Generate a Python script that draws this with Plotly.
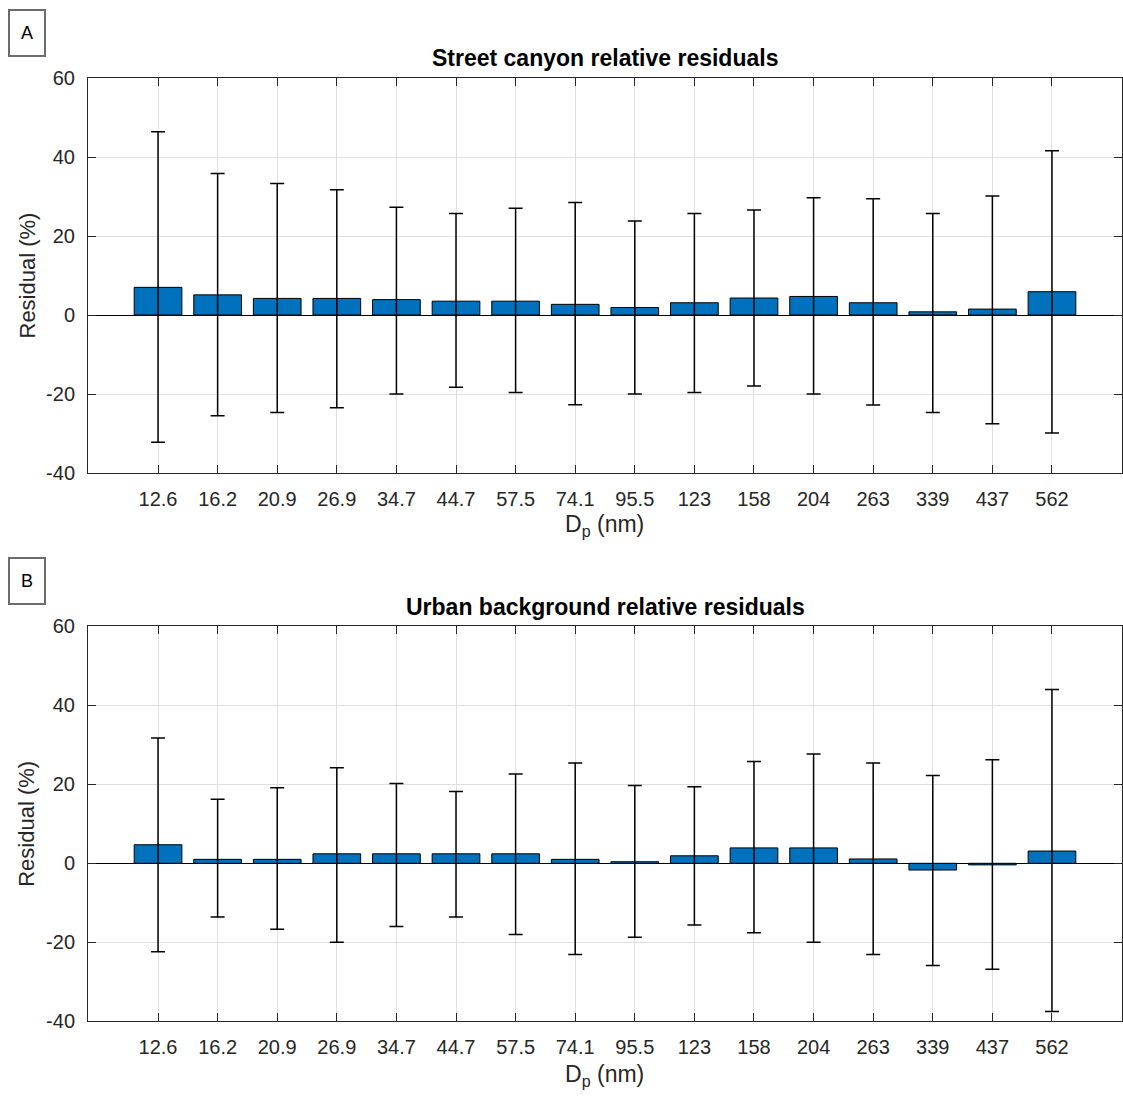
import plotly.graph_objects as go
from plotly.subplots import make_subplots

categories = ["12.6", "16.2", "20.9", "26.9", "34.7", "44.7", "57.5", "74.1",
              "95.5", "123", "158", "204", "263", "339", "437", "562"]

street_mean = [7.0, 5.1, 4.2, 4.2, 3.9, 3.5, 3.5, 2.7, 1.9, 3.1, 4.3, 4.7, 3.1, 0.8, 1.5, 5.9]
street_upper = [46.4, 35.8, 33.3, 31.7, 27.3, 25.7, 27.0, 28.5, 23.8, 25.7, 26.6, 29.7, 29.4, 25.7, 30.1, 41.6]
street_lower = [-32.2, -25.5, -24.7, -23.5, -20.0, -18.3, -19.6, -22.7, -20.0, -19.6, -18.0, -20.0, -22.8, -24.7, -27.5, -29.9]

urban_mean = [4.7, 1.0, 1.0, 2.4, 2.4, 2.4, 2.4, 1.0, 0.4, 1.9, 3.9, 3.9, 1.1, -1.7, -0.4, 3.1]
urban_upper = [31.7, 16.2, 19.1, 24.2, 20.2, 18.2, 22.6, 25.4, 19.7, 19.4, 25.8, 27.7, 25.4, 22.2, 26.2, 44.0]
urban_lower = [-22.4, -13.6, -16.7, -20.0, -16.0, -13.6, -18.0, -23.1, -18.7, -15.6, -17.6, -20.0, -23.1, -25.9, -26.8, -37.5]

y_ticks = [-40, -20, 0, 20, 40, 60]
y_tick_labels = ["-40", "-20", "0", "20", "40", "60"]

W, H = 1123, 1097
FONT = "Liberation Sans, Arial, Helvetica, sans-serif"
AX = "#262626"

x_pos = list(range(1, len(categories) + 1))

fig = make_subplots(rows=2, cols=1)

panels = [
    (street_mean, street_upper, street_lower, 1),
    (urban_mean, urban_upper, urban_lower, 2),
]
for mean, up, lo, row in panels:
    fig.add_trace(go.Bar(
        x=x_pos, y=mean, width=0.8,
        marker=dict(color="#0072BD", line=dict(color="#000000", width=1)),
        error_y=dict(type="data", symmetric=False,
                     array=[u - m for u, m in zip(up, mean)],
                     arrayminus=[m - l for m, l in zip(mean, lo)],
                     color="#000000", thickness=1.5, width=7),
        showlegend=False, hoverinfo="skip",
    ), row=row, col=1)


def px(x):
    return x / W


def py(y):
    return 1 - y / H


x_dom = [px(88), px(1122)]
y_doms = [[py(473), py(78)], [py(1021.3), py(626.3)]]

for i, row in enumerate([1, 2]):
    fig.update_xaxes(
        domain=x_dom, range=[1 - 1.175, len(categories) + 1.175],
        tickmode="array", tickvals=x_pos, ticktext=categories,
        ticks="inside", ticklen=8, tickcolor=AX, tickwidth=1,
        showline=True, linecolor=AX, linewidth=1, mirror="allticks",
        showgrid=True, gridcolor="#dfdfdf", gridwidth=1,
        zeroline=False, ticklabelstandoff=8, automargin=False,
        tickfont=dict(family=FONT, size=20, color=AX),
        row=row, col=1)
    fig.update_yaxes(
        domain=y_doms[i], range=[-40, 60],
        tickmode="array", tickvals=y_ticks, ticktext=y_tick_labels,
        ticks="inside", ticklen=8, tickcolor=AX, tickwidth=1,
        showline=True, linecolor=AX, linewidth=1, mirror="allticks",
        showgrid=True, gridcolor="#dfdfdf", gridwidth=1,
        zeroline=True, zerolinecolor="#000000", zerolinewidth=1,
        ticklabelstandoff=8, automargin=False,
        tickfont=dict(family=FONT, size=20, color=AX),
        row=row, col=1)

annotations = []
titles = [("Street canyon relative residuals", 58), ("Urban background relative residuals", 607)]
for text, yy in titles:
    annotations.append(dict(text="<b>" + text + "</b>", x=px(605), y=py(yy), xref="paper", yref="paper",
                            showarrow=False, xanchor="center", yanchor="middle",
                            font=dict(family=FONT, size=23, color="#000000")))
for yy in [525, 1075]:
    annotations.append(dict(text="D<sub>p</sub> (nm)", x=px(604), y=py(yy), xref="paper", yref="paper",
                            showarrow=False, xanchor="center", yanchor="middle",
                            font=dict(family=FONT, size=23, color=AX)))
for yy in [275.5, 823.8]:
    annotations.append(dict(text="Residual (%)", x=px(27), y=py(yy), xref="paper", yref="paper",
                            showarrow=False, xanchor="center", yanchor="middle", textangle=-90,
                            font=dict(family=FONT, size=22, color=AX)))
for label, yy in [("A", 33), ("B", 581)]:
    annotations.append(dict(text=label, x=px(27), y=py(yy), xref="paper", yref="paper",
                            showarrow=False, xanchor="center", yanchor="middle",
                            width=34, height=44, borderpad=0, bordercolor="#6b6b6b", borderwidth=2,
                            font=dict(family=FONT, size=18, color="#000000")))

fig.update_layout(
    width=W, height=H,
    margin=dict(l=0, r=0, t=0, b=0, autoexpand=False),
    paper_bgcolor="white", plot_bgcolor="white",
    bargap=0.2,
    annotations=annotations,
    font=dict(family=FONT),
)

fig.write_html(
    "out.html",
    config={"displayModeBar": False},
    post_script="document.body.style.margin='0';document.body.style.overflow='hidden';"
                "document.documentElement.style.overflow='hidden';",
)
